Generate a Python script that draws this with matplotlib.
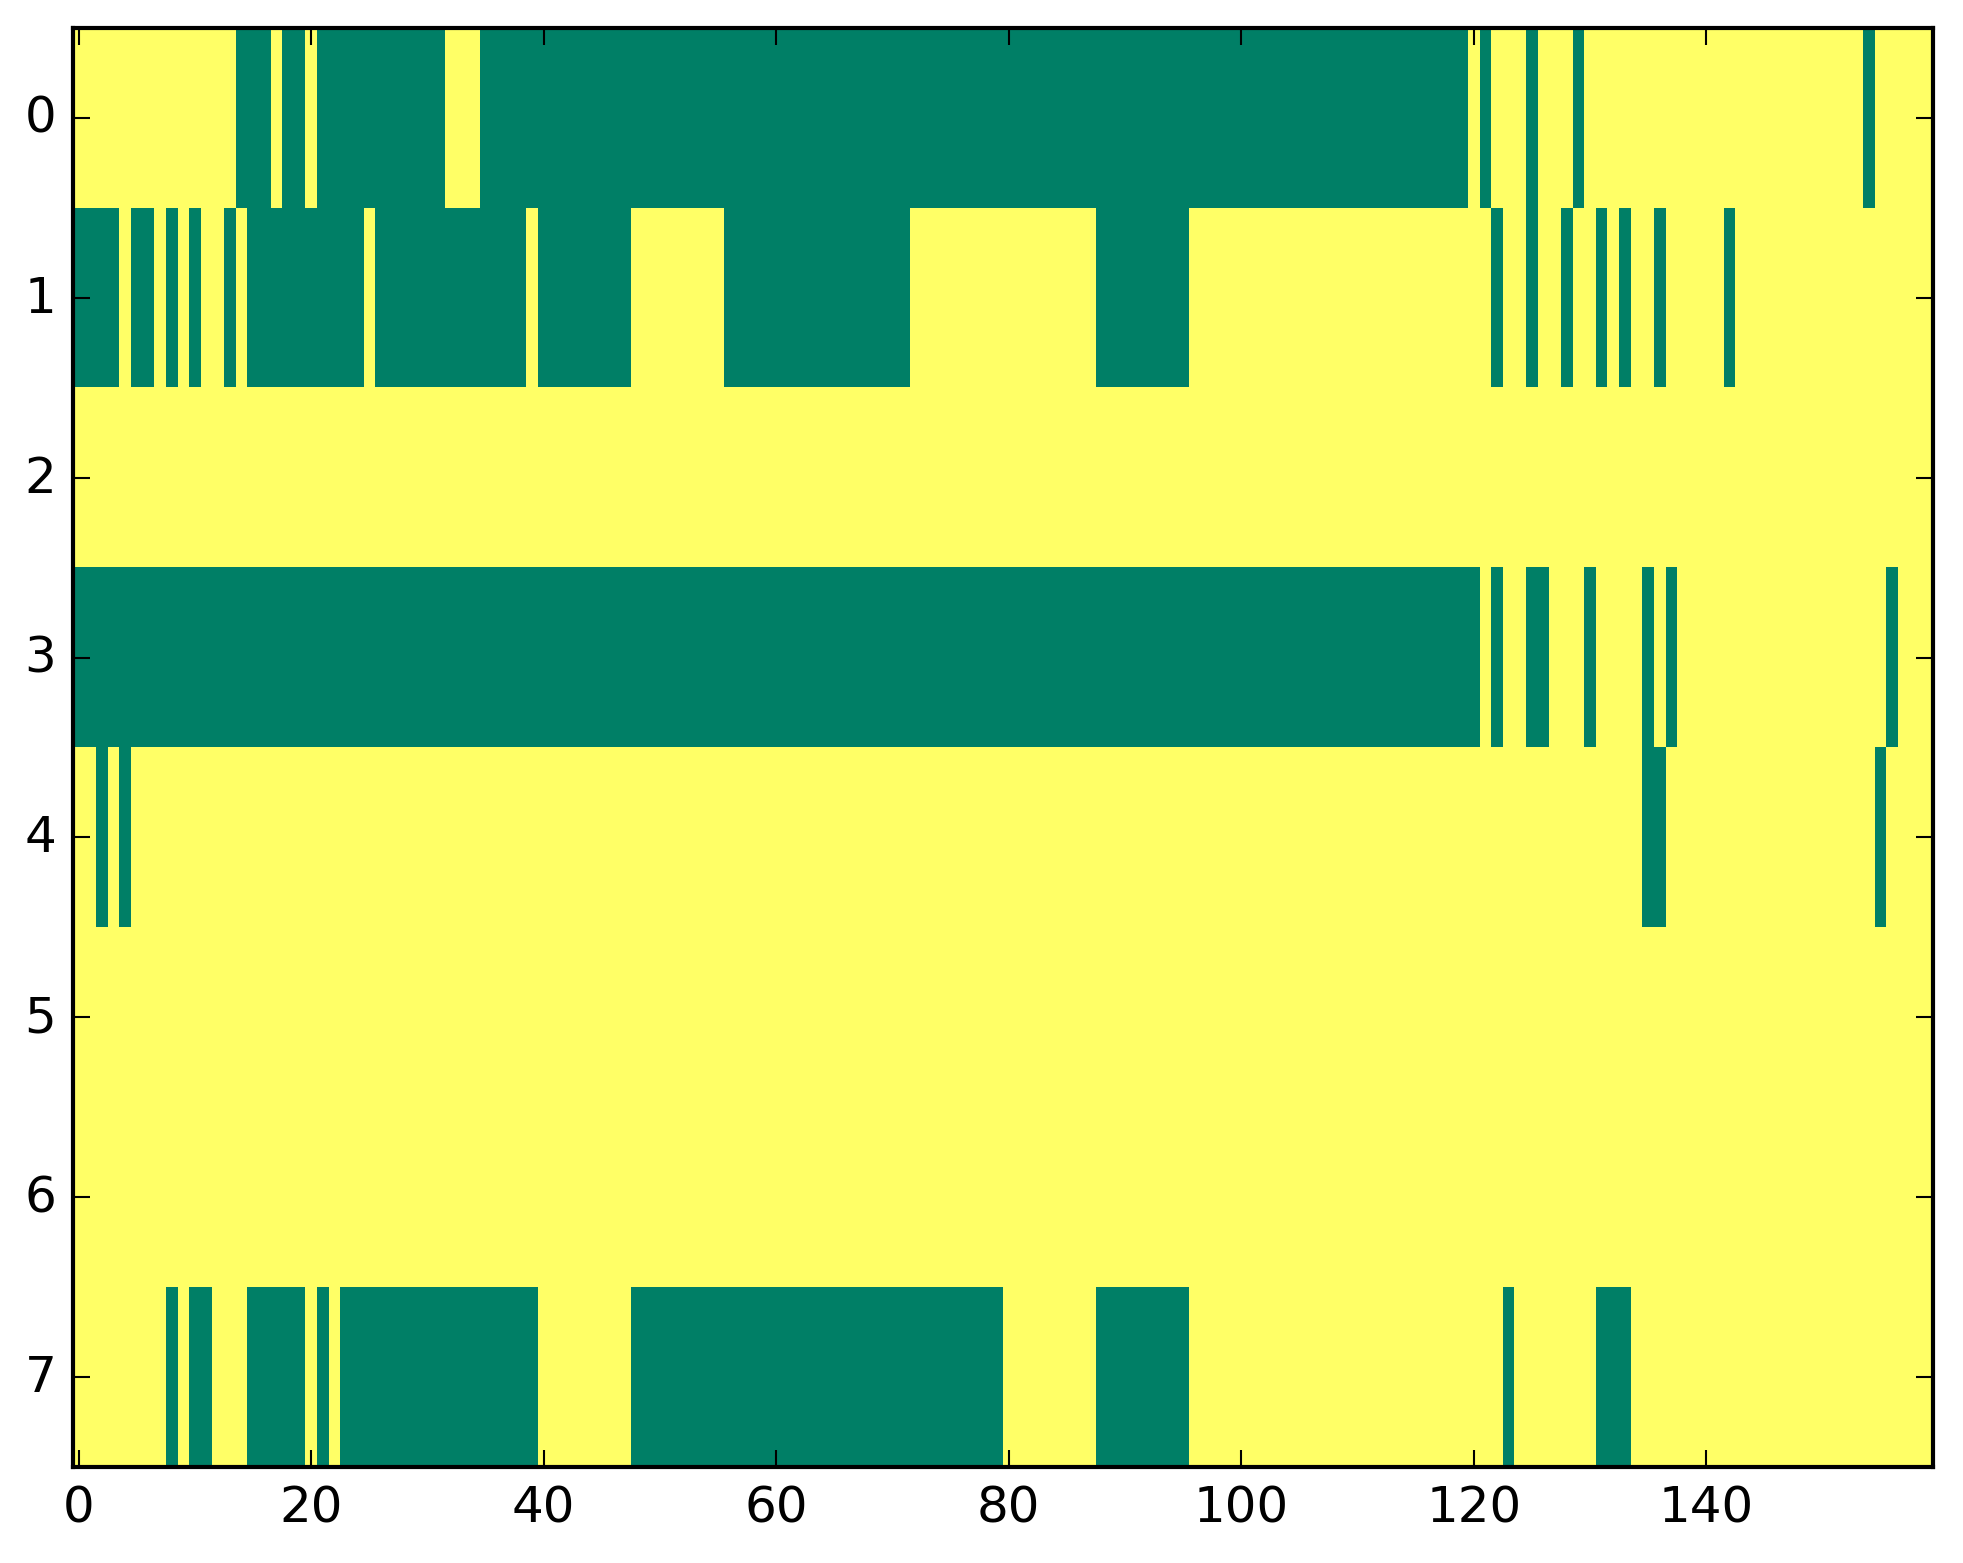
import numpy as np
import matplotlib
matplotlib.use('Agg')
import matplotlib.pyplot as plt

plt.style.use('classic')

n_rows = 8
n_cols = 160

# green (value 0) runs per row, inclusive (start, end); everything else is 1 (yellow)
row0_green = [(14, 16), (18, 19), (21, 31), (35, 119), (121, 121), (125, 125),
              (129, 129), (154, 154)]
row1_green = [(0, 3), (5, 6), (8, 8), (10, 10), (13, 13), (15, 24), (26, 38),
              (40, 47), (56, 71), (88, 95), (122, 122), (125, 125), (128, 128),
              (131, 131), (133, 133), (136, 136), (142, 142)]
row2_green = []
row3_green = [(0, 120), (122, 122), (125, 126), (130, 130), (135, 135),
              (137, 137), (156, 156)]
row4_green = [(2, 2), (4, 4), (135, 136), (155, 155)]
row5_green = []
row6_green = []
row7_green = [(8, 8), (10, 11), (15, 19), (21, 21), (23, 39), (48, 79),
              (88, 95), (123, 123), (131, 133)]

rows_green = [row0_green, row1_green, row2_green, row3_green,
              row4_green, row5_green, row6_green, row7_green]

grid = np.ones((n_rows, n_cols))
for r, runs in enumerate(rows_green):
    for a, b in runs:
        grid[r, a:b + 1] = 0

W, H, DPI = 1963, 1564, 300
fig = plt.figure(figsize=(W / DPI, H / DPI), dpi=DPI, facecolor='white')
ax = fig.add_axes([73 / W, 1 - 1468 / H, (1933 - 73) / W, (1468 - 29) / H])

ax.imshow(grid, cmap='summer', aspect='auto', interpolation='nearest',
          vmin=0, vmax=1)
ax.set_xticks(np.arange(0, 160, 20))
ax.set_yticks(np.arange(0, 8, 1))
ax.set_xlim(-0.5, n_cols - 0.5)
ax.set_ylim(n_rows - 0.5, -0.5)

fig.savefig('out.png', dpi=DPI, facecolor='white')
